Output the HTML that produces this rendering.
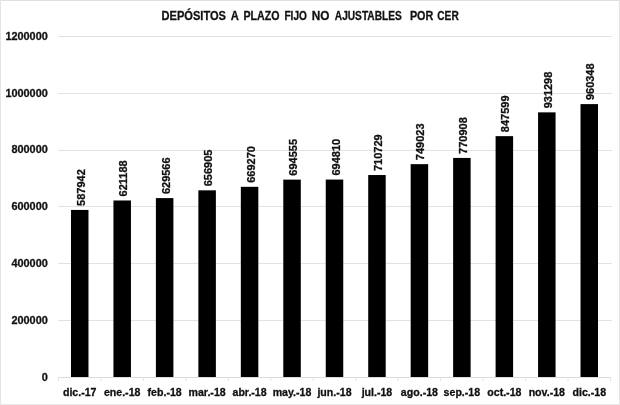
<!DOCTYPE html><html><head><meta charset="utf-8"><style>
html,body{margin:0;padding:0;background:#fff;}
svg{display:block;will-change:transform;}
text{font-family:"Liberation Sans",sans-serif;font-weight:bold;fill:#111;stroke:#111;stroke-width:0.3px;}
</style></head><body>
<svg width="620" height="405" viewBox="0 0 620 405">
<rect x="0" y="0" width="620" height="405" fill="#fff"/>
<rect x="0" y="0" width="620" height="1" fill="#e0e0e0"/>
<rect x="0" y="0" width="1" height="405" fill="#e4e4e4"/>
<rect x="619" y="0" width="1" height="405" fill="#e2e2e2"/>
<rect x="0" y="404" width="620" height="1" fill="#e8e8e8"/>
<rect x="58" y="36" width="554" height="1" fill="#e2e2e2"/>
<rect x="58" y="93" width="554" height="1" fill="#e2e2e2"/>
<rect x="58" y="150" width="554" height="1" fill="#e2e2e2"/>
<rect x="58" y="206" width="554" height="1" fill="#e2e2e2"/>
<rect x="58" y="263" width="554" height="1" fill="#e2e2e2"/>
<rect x="58" y="320" width="554" height="1" fill="#e2e2e2"/>
<rect x="58.5" y="377.00" width="552.0" height="1" fill="#dcdcdc"/>
<rect x="58.00" y="377.00" width="1" height="4" fill="#e2e2e2"/>
<rect x="100.46" y="377.00" width="1" height="4" fill="#e2e2e2"/>
<rect x="142.92" y="377.00" width="1" height="4" fill="#e2e2e2"/>
<rect x="185.38" y="377.00" width="1" height="4" fill="#e2e2e2"/>
<rect x="227.85" y="377.00" width="1" height="4" fill="#e2e2e2"/>
<rect x="270.31" y="377.00" width="1" height="4" fill="#e2e2e2"/>
<rect x="312.77" y="377.00" width="1" height="4" fill="#e2e2e2"/>
<rect x="355.23" y="377.00" width="1" height="4" fill="#e2e2e2"/>
<rect x="397.69" y="377.00" width="1" height="4" fill="#e2e2e2"/>
<rect x="440.15" y="377.00" width="1" height="4" fill="#e2e2e2"/>
<rect x="482.62" y="377.00" width="1" height="4" fill="#e2e2e2"/>
<rect x="525.08" y="377.00" width="1" height="4" fill="#e2e2e2"/>
<rect x="567.54" y="377.00" width="1" height="4" fill="#e2e2e2"/>
<rect x="610.00" y="377.00" width="1" height="4" fill="#e2e2e2"/>
<text x="47.8" y="380.80" font-size="10.9" text-anchor="end">0</text>
<text x="47.8" y="323.97" font-size="10.9" text-anchor="end">200000</text>
<text x="47.8" y="267.13" font-size="10.9" text-anchor="end">400000</text>
<text x="47.8" y="210.30" font-size="10.9" text-anchor="end">600000</text>
<text x="47.8" y="153.47" font-size="10.9" text-anchor="end">800000</text>
<text x="47.8" y="96.63" font-size="10.9" text-anchor="end">1000000</text>
<text x="47.8" y="39.80" font-size="10.9" text-anchor="end">1200000</text>
<rect x="70.98" y="209.93" width="17.5" height="167.07" fill="#000"/>
<text transform="translate(84.73,205.93) rotate(-90)" x="0" y="0" font-size="11">587942</text>
<text x="79.73" y="395.7" font-size="10.6" text-anchor="middle">dic.-17</text>
<rect x="113.44" y="200.48" width="17.5" height="176.52" fill="#000"/>
<text transform="translate(127.19,196.48) rotate(-90)" x="0" y="0" font-size="11">621188</text>
<text x="122.19" y="395.7" font-size="10.6" text-anchor="middle">ene.-18</text>
<rect x="155.90" y="198.10" width="17.5" height="178.90" fill="#000"/>
<text transform="translate(169.65,194.10) rotate(-90)" x="0" y="0" font-size="11">629566</text>
<text x="164.65" y="395.7" font-size="10.6" text-anchor="middle">feb.-18</text>
<rect x="198.37" y="190.33" width="17.5" height="186.67" fill="#000"/>
<text transform="translate(212.12,186.33) rotate(-90)" x="0" y="0" font-size="11">656905</text>
<text x="207.12" y="395.7" font-size="10.6" text-anchor="middle">mar.-18</text>
<rect x="240.83" y="186.82" width="17.5" height="190.18" fill="#000"/>
<text transform="translate(254.58,182.82) rotate(-90)" x="0" y="0" font-size="11">669270</text>
<text x="249.58" y="395.7" font-size="10.6" text-anchor="middle">abr.-18</text>
<rect x="283.29" y="179.63" width="17.5" height="197.37" fill="#000"/>
<text transform="translate(297.04,175.63) rotate(-90)" x="0" y="0" font-size="11">694555</text>
<text x="292.04" y="395.7" font-size="10.6" text-anchor="middle">may.-18</text>
<rect x="325.75" y="179.56" width="17.5" height="197.44" fill="#000"/>
<text transform="translate(339.50,175.56) rotate(-90)" x="0" y="0" font-size="11">694810</text>
<text x="334.50" y="395.7" font-size="10.6" text-anchor="middle">jun.-18</text>
<rect x="368.21" y="175.03" width="17.5" height="201.97" fill="#000"/>
<text transform="translate(381.96,171.03) rotate(-90)" x="0" y="0" font-size="11">710729</text>
<text x="376.96" y="395.7" font-size="10.6" text-anchor="middle">jul.-18</text>
<rect x="410.67" y="164.15" width="17.5" height="212.85" fill="#000"/>
<text transform="translate(424.42,160.15) rotate(-90)" x="0" y="0" font-size="11">749023</text>
<text x="419.42" y="395.7" font-size="10.6" text-anchor="middle">ago.-18</text>
<rect x="453.13" y="157.93" width="17.5" height="219.07" fill="#000"/>
<text transform="translate(466.88,153.93) rotate(-90)" x="0" y="0" font-size="11">770908</text>
<text x="461.88" y="395.7" font-size="10.6" text-anchor="middle">sep.-18</text>
<rect x="495.60" y="136.14" width="17.5" height="240.86" fill="#000"/>
<text transform="translate(509.35,132.14) rotate(-90)" x="0" y="0" font-size="11">847599</text>
<text x="504.35" y="395.7" font-size="10.6" text-anchor="middle">oct.-18</text>
<rect x="538.06" y="112.36" width="17.5" height="264.64" fill="#000"/>
<text transform="translate(551.81,108.36) rotate(-90)" x="0" y="0" font-size="11">931298</text>
<text x="546.81" y="395.7" font-size="10.6" text-anchor="middle">nov.-18</text>
<rect x="580.52" y="104.10" width="17.5" height="272.90" fill="#000"/>
<text transform="translate(594.27,100.10) rotate(-90)" x="0" y="0" font-size="11">960348</text>
<text x="589.27" y="395.7" font-size="10.6" text-anchor="middle">dic.-18</text>
<text x="161.50" y="19.8" font-size="12.6" textLength="64.50" lengthAdjust="spacingAndGlyphs">DEPÓSITOS</text>
<text x="230.80" y="19.8" font-size="12.6" textLength="8.10" lengthAdjust="spacingAndGlyphs">A</text>
<text x="243.50" y="19.8" font-size="12.6" textLength="36.00" lengthAdjust="spacingAndGlyphs">PLAZO</text>
<text x="284.40" y="19.8" font-size="12.6" textLength="22.50" lengthAdjust="spacingAndGlyphs">FIJO</text>
<text x="311.80" y="19.8" font-size="12.6" textLength="17.70" lengthAdjust="spacingAndGlyphs">NO</text>
<text x="334.80" y="19.8" font-size="12.6" textLength="67.00" lengthAdjust="spacingAndGlyphs">AJUSTABLES</text>
<text x="409.90" y="19.8" font-size="12.6" textLength="23.40" lengthAdjust="spacingAndGlyphs">POR</text>
<text x="437.30" y="19.8" font-size="12.6" textLength="21.40" lengthAdjust="spacingAndGlyphs">CER</text>
</svg></body></html>
